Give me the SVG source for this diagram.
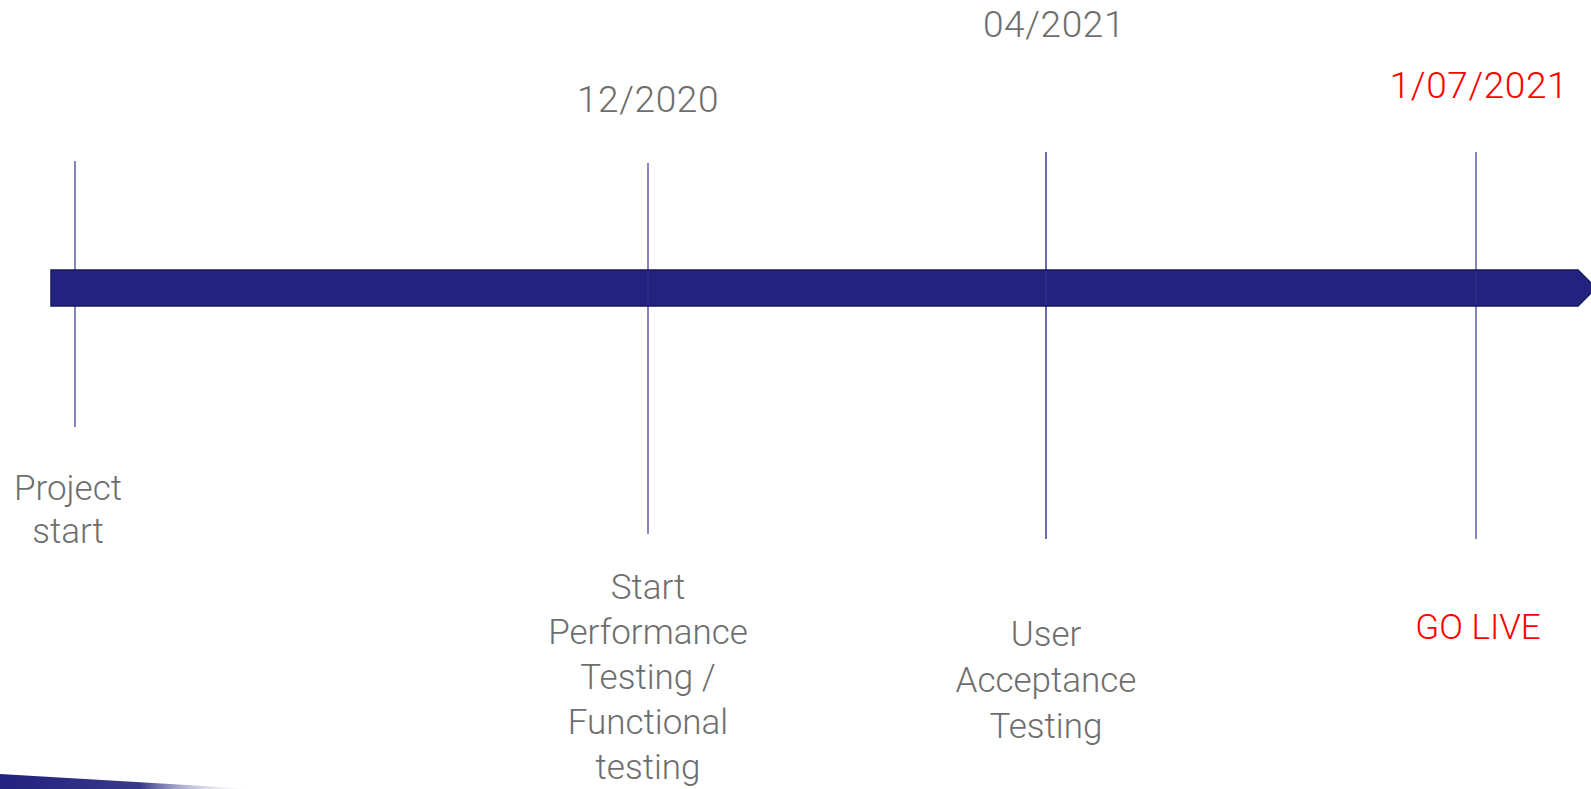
<svg xmlns="http://www.w3.org/2000/svg" width="1591" height="789" viewBox="0 0 1591 789">
<style>
.lbl{font-family:Roboto,"Open Sans","Liberation Sans",sans-serif;font-weight:300;font-size:35px;fill:#6e6e6e;text-anchor:middle}
.date{font-size:37px;letter-spacing:0.6px}
.red{fill:#ff0000}
.tick{stroke:#5c5cab;stroke-width:1.5}
.tickin{stroke:#4a4aa0;stroke-width:1.2;opacity:0.4}
</style>
<defs>
<linearGradient id="fade" x1="0" y1="0" x2="1" y2="0">
<stop offset="0" stop-color="#22227f"/>
<stop offset="0.55" stop-color="#22227f" stop-opacity="0.9"/>
<stop offset="1" stop-color="#ffffff" stop-opacity="0"/>
</linearGradient>
</defs>
<rect width="1591" height="789" fill="#ffffff"/>
<polygon points="0,774 255,789 0,789" fill="url(#fade)"/>
<g id="connectors">
<line class="tick" x1="75" y1="161" x2="75" y2="427"/>
<line class="tick" x1="648" y1="163" x2="648" y2="534"/>
<line class="tick" x1="1046" y1="152" x2="1046" y2="539" style="stroke:#3a3a98"/>
<line class="tick" x1="1476" y1="152" x2="1476" y2="539"/>
</g>
<g id="timeline">
<polygon points="51,270 1578,270 1596,288 1578,306 51,306" fill="#22227f" stroke="#17175f" stroke-width="1.5"/>
<line class="tickin" x1="648" y1="271" x2="648" y2="305"/>
<line class="tickin" x1="1046" y1="271" x2="1046" y2="305"/>
<line class="tickin" x1="1476" y1="271" x2="1476" y2="305"/>
</g>
<g id="m1">
<text class="lbl" x="68" y="500">Project</text>
<text class="lbl" x="68" y="543">start</text>
</g>
<g id="m2">
<text class="lbl date" x="648" y="112">12/2020</text>
<text class="lbl" x="648" y="599">Start</text>
<text class="lbl" x="648" y="644">Performance</text>
<text class="lbl" x="648" y="689">Testing /</text>
<text class="lbl" x="648" y="734">Functional</text>
<text class="lbl" x="648" y="779">testing</text>
</g>
<g id="m3">
<text class="lbl date" x="1054" y="37">04/2021</text>
<text class="lbl" x="1046" y="646">User</text>
<text class="lbl" x="1046" y="692">Acceptance</text>
<text class="lbl" x="1046" y="738">Testing</text>
</g>
<g id="m4">
<text class="lbl date red" x="1479" y="98">1/07/2021</text>
<text class="lbl red" x="1478" y="639">GO LIVE</text>
</g>
</svg>
